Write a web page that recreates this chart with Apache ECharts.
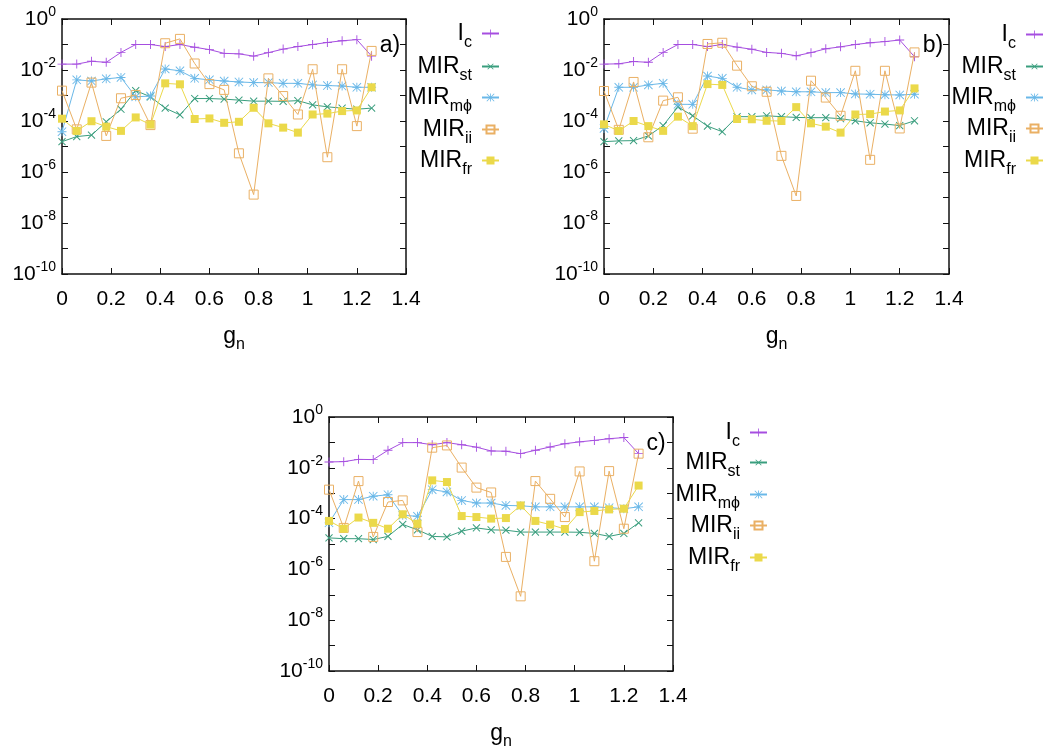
<!DOCTYPE html>
<html>
<head>
<meta charset="utf-8">
<script src="https://cdn.jsdelivr.net/npm/echarts@6/dist/echarts.min.js"></script>
<style>
html, body { margin: 0; padding: 0; background: #fff; }
#chart { width: 1046px; height: 756px; }
</style>
</head>
<body>
<div id="chart"></div>
<script>
// g_n values (x axis)
var gn = [0, 0.06, 0.12, 0.18, 0.24, 0.30, 0.36, 0.42, 0.48, 0.54, 0.60,
          0.66, 0.72, 0.78, 0.84, 0.90, 0.96, 1.02, 1.08, 1.14, 1.20, 1.26];

// panel a)
var Ic_a   = [1.7e-2, 1.7e-2, 2.2e-2, 2.0e-2, 4.9e-2, 1.0e-1, 1.0e-1, 8.3e-2, 1.0e-1, 7.8e-2, 6.3e-2,
              4.5e-2, 4.3e-2, 3.5e-2, 4.8e-2, 6.6e-2, 8.3e-2, 1.0e-1, 1.2e-1, 1.4e-1, 1.55e-1, 3.5e-2];
var St_a   = [1.55e-5, 2.45e-5, 2.8e-5, 9.3e-5, 2.9e-4, 1.55e-3, 8.9e-4, 3.2e-4, 1.74e-4, 7.6e-4, 7.6e-4,
              7.2e-4, 6.6e-4, 6.0e-4, 6.0e-4, 5.9e-4, 6.3e-4, 4.3e-4, 3.6e-4, 3.2e-4, 2.9e-4, 3.2e-4];
var Mphi_a = [3.8e-5, 4.1e-3, 3.7e-3, 4.5e-3, 5.1e-3, 8.9e-4, 9.5e-4, 1.1e-2, 9.3e-3, 4.7e-3, 4.1e-3,
              3.7e-3, 3.4e-3, 3.2e-3, 3.2e-3, 3.0e-3, 3.0e-3, 2.6e-3, 2.45e-3, 2.35e-3, 2.1e-3, 2.1e-3];
var Ii_a   = [1.55e-3, 4.7e-5, 3.2e-3, 2.6e-5, 7.8e-4, 1.05e-3, 6.9e-5, 1.12e-1, 1.66e-1, 1.8e-2, 2.8e-3,
              1.66e-3, 5.4e-6, 1.3e-7, 4.7e-3, 9.5e-4, 1.8e-4, 1.07e-2, 3.8e-6, 1.07e-2, 6.3e-5, 5.6e-2];
var Fr_a   = [1.23e-4, 4.1e-5, 9.8e-5, 6.0e-5, 4.1e-5, 1.38e-4, 7.2e-5, 3.0e-3, 2.75e-3, 1.2e-4, 1.26e-4,
              8.5e-5, 9.3e-5, 3.3e-4, 8.1e-5, 5.5e-5, 3.5e-5, 1.8e-4, 1.95e-4, 2.45e-4, 2.6e-4, 2.1e-3];

// panel b)
var Ic_b   = [1.7e-2, 1.75e-2, 2.15e-2, 2.0e-2, 4.9e-2, 1.0e-1, 1.0e-1, 8.3e-2, 1.0e-1, 7.9e-2, 6.5e-2,
              4.9e-2, 4.5e-2, 3.6e-2, 4.8e-2, 6.8e-2, 8.1e-2, 1.0e-1, 1.17e-1, 1.3e-1, 1.5e-1, 3.3e-2];
var St_b   = [1.55e-5, 1.66e-5, 1.7e-5, 2.6e-5, 6.6e-5, 3.6e-4, 1.6e-4, 6.3e-5, 3.8e-5, 1.48e-4, 1.48e-4,
              1.6e-4, 1.48e-4, 1.38e-4, 1.35e-4, 1.35e-4, 1.23e-4, 1.02e-4, 8.5e-5, 7.6e-5, 6.6e-5, 1.02e-4];
var Mphi_b = [5.1e-5, 2.1e-3, 2.1e-3, 2.6e-3, 3.0e-3, 4.5e-4, 4.5e-4, 5.8e-3, 4.7e-3, 2.1e-3, 1.66e-3,
              1.66e-3, 1.5e-3, 1.4e-3, 1.4e-3, 1.3e-3, 1.3e-3, 1.15e-3, 1.12e-3, 1.07e-3, 1.05e-3, 1.12e-3];
var Ii_b   = [1.5e-3, 4.5e-5, 3.4e-3, 2.3e-5, 6.3e-4, 8.5e-4, 5.0e-5, 1.05e-1, 1.17e-1, 1.48e-2, 2.3e-3,
              1.4e-3, 4.3e-6, 1.15e-7, 3.8e-3, 8.3e-4, 1.6e-4, 9.3e-3, 3.0e-6, 9.3e-3, 5.1e-5, 4.9e-2];
var Fr_b   = [7.4e-5, 4.1e-5, 1.0e-4, 6.3e-5, 4.1e-5, 1.48e-4, 6.3e-5, 2.8e-3, 2.6e-3, 1.2e-4, 1.17e-4,
              1.02e-4, 1.0e-4, 3.5e-4, 8.1e-5, 6.0e-5, 3.5e-5, 1.8e-4, 1.86e-4, 2.35e-4, 2.6e-4, 1.9e-3];

// panel c)
var Ic_c   = [1.7e-2, 1.75e-2, 2.15e-2, 2.1e-2, 4.9e-2, 9.8e-2, 9.8e-2, 8.1e-2, 9.8e-2, 8.1e-2, 6.5e-2,
              4.6e-2, 4.5e-2, 3.6e-2, 4.9e-2, 6.6e-2, 8.9e-2, 1.05e-1, 1.2e-1, 1.4e-1, 1.55e-1, 3.6e-2];
var St_c   = [1.74e-5, 1.62e-5, 1.62e-5, 1.5e-5, 2.0e-5, 5.9e-5, 3.6e-5, 2.0e-5, 1.9e-5, 3.2e-5, 4.3e-5,
              3.6e-5, 3.5e-5, 2.95e-5, 2.95e-5, 2.95e-5, 2.95e-5, 2.9e-5, 2.6e-5, 2.0e-5, 2.6e-5, 6.8e-5];
var Mphi_c = [6.8e-5, 5.6e-4, 5.6e-4, 7.6e-4, 8.7e-4, 1.35e-4, 1.23e-4, 1.38e-3, 1.12e-3, 5.2e-4, 4.1e-4,
              4.1e-4, 3.3e-4, 3.2e-4, 2.9e-4, 2.9e-4, 2.9e-4, 2.9e-4, 2.9e-4, 2.7e-4, 2.45e-4, 2.9e-4];
var Ii_c   = [1.38e-3, 4.3e-5, 3.0e-3, 1.9e-5, 4.5e-4, 5.2e-4, 2.95e-5, 6.2e-2, 7.6e-2, 1.02e-2, 1.66e-3,
              1.07e-3, 3.1e-6, 8.7e-8, 3.0e-3, 6.0e-4, 1.15e-4, 7.2e-3, 2.1e-6, 7.4e-3, 4.0e-5, 3.6e-2];
var Fr_c   = [8.1e-5, 4.0e-5, 1.1e-4, 6.8e-5, 4.0e-5, 1.48e-4, 6.3e-5, 3.2e-3, 2.75e-3, 1.26e-4, 1.15e-4,
              1.0e-4, 1.05e-4, 3.3e-4, 8.1e-5, 5.8e-5, 3.9e-5, 1.8e-4, 2.0e-4, 2.3e-4, 2.45e-4, 2.0e-3];

var FONT = "'Liberation Sans Narrow', 'Liberation Sans', Arial, sans-serif";

// gnuplot-like point types
var PLUS = 'path://M9,0L11,0L11,9L20,9L20,11L11,11L11,20L9,20L9,11L0,11L0,9L9,9Z';
var STAR = 'path://M9,0L11,0L11,20L9,20Z M0,9L20,9L20,11L0,11Z ' +
           'M0,1.4L1.4,0L20,18.6L18.6,20Z M18.6,0L20,1.4L1.4,20L0,18.6Z';

var kinds = [
    { key: 'Ic',   label: '{m|I}{s|c}',    color: '#a64ee0', symbol: PLUS,   size: 9,  rotate: 0 },
    { key: 'st',   label: '{m|MIR}{s|st}', color: '#3a9e7e', symbol: PLUS,   size: 10, rotate: 45 },
    { key: 'mphi', label: '{m|MIR}{s|mϕ}', color: '#6ab8e8', symbol: STAR,   size: 9,  rotate: 0 },
    { key: 'ii',   label: '{m|MIR}{s|ii}', color: '#eab064', symbol: 'rect', size: 9,  rotate: 0, open: true },
    { key: 'fr',   label: '{m|MIR}{s|fr}', color: '#ebd94a', symbol: 'rect', size: 8,  rotate: 0 }
];

var panels = [
    { tag: 'a)', grid: { left: 62, top: 19, width: 344, height: 255 },
      data: { Ic: Ic_a, st: St_a, mphi: Mphi_a, ii: Ii_a, fr: Fr_a },
      legendRight: 546, legendRows: [34, 67, 98, 130, 161], tagPos: [390, 46] },
    { tag: 'b)', grid: { left: 604, top: 19, width: 345, height: 255 },
      data: { Ic: Ic_b, st: St_b, mphi: Mphi_b, ii: Ii_b, fr: Fr_b },
      legendRight: 2, legendRows: [35, 67, 98, 129, 161], tagPos: [933, 46] },
    { tag: 'c)', grid: { left: 329, top: 417, width: 344, height: 254 },
      data: { Ic: Ic_c, st: St_c, mphi: Mphi_c, ii: Ii_c, fr: Fr_c },
      legendRight: 278, legendRows: [433, 463, 495, 526, 558], tagPos: [656, 444] }
];

var labelMap = {};
kinds.forEach(function (k) { labelMap[k.key] = k.label; });

var legendRich = {
    m: { fontSize: 23, fontFamily: FONT, color: '#000', lineHeight: 34 },
    s: { fontSize: 16, fontFamily: FONT, color: '#000', lineHeight: 14, verticalAlign: 'bottom', padding: [0, 5, 0, 0] }
};

var frame = { show: true, onZero: false, lineStyle: { color: '#111', width: 1.5 } };
var ticks = { show: true, inside: true, length: 6, lineStyle: { color: '#111', width: 1 } };

var option = {
    animation: false,
    backgroundColor: '#fff',
    grid: [], xAxis: [], yAxis: [], series: [], legend: [], graphic: []
};

panels.forEach(function (p, k) {
    option.grid.push(p.grid);

    // bottom and top x axes (mirrored ticks)
    option.xAxis.push({
        type: 'value', gridIndex: k, position: 'bottom', min: 0, max: 1.4, interval: 0.2,
        axisLine: frame, axisTick: ticks, splitLine: { show: false },
        axisLabel: { fontSize: 21, fontFamily: FONT, color: '#000', margin: 15 },
        name: '{m|g}{s|n}', nameLocation: 'middle', nameGap: 47,
        nameTextStyle: { rich: {
            m: { fontSize: 23, fontFamily: FONT, color: '#000', lineHeight: 32 },
            s: { fontSize: 16, fontFamily: FONT, color: '#000', lineHeight: 14, verticalAlign: 'bottom' }
        } }
    });
    option.xAxis.push({
        type: 'value', gridIndex: k, position: 'top', min: 0, max: 1.4, interval: 0.2,
        axisLine: frame, axisTick: ticks, splitLine: { show: false }, axisLabel: { show: false }
    });

    // left and right log y axes, one tick per decade
    option.yAxis.push({
        type: 'log', logBase: 10, gridIndex: k, position: 'left', min: 1e-10, max: 1, interval: 1,
        axisLine: frame, axisTick: ticks, splitLine: { show: false }, minorTick: { show: false },
        axisLabel: {
            margin: 6, color: '#000', showMinLabel: true, showMaxLabel: true,
            formatter: function (v) {
                var e = Math.round(Math.log10(v));
                if (e % 2 !== 0) return '';
                return '{b|10}{e|' + e + '}';
            },
            rich: {
                b: { fontSize: 21, fontFamily: FONT, color: '#000', lineHeight: 28 },
                e: { fontSize: 14, fontFamily: FONT, color: '#000', lineHeight: 14, verticalAlign: 'top' }
            }
        }
    });
    option.yAxis.push({
        type: 'log', logBase: 10, gridIndex: k, position: 'right', min: 1e-10, max: 1, interval: 1,
        axisLine: frame, axisTick: ticks, splitLine: { show: false }, axisLabel: { show: false }
    });

    kinds.forEach(function (kind, j) {
        var name = kind.key + '_' + k;
        var arr = p.data[kind.key];
        option.series.push({
            type: 'line', name: name,
            xAxisIndex: 2 * k, yAxisIndex: 2 * k,
            data: gn.map(function (x, i) { return [x, arr[i]]; }),
            symbol: kind.symbol, symbolSize: kind.size, symbolRotate: kind.rotate,
            color: kind.color,
            lineStyle: { color: kind.color, width: 1 },
            itemStyle: kind.open
                ? { color: 'rgba(255,255,255,0)', borderColor: kind.color, borderWidth: 1 }
                : { color: kind.color, borderWidth: 0 },
            emphasis: { disabled: true },
            z: 2 + j
        });
        option.legend.push({
            data: [name], orient: 'vertical', align: 'right',
            right: p.legendRight, top: p.legendRows[j] - 12,
            padding: 0, itemWidth: 17, itemHeight: 10,
            selectedMode: false,
            formatter: function (n) { return labelMap[n.split('_')[0]]; },
            textStyle: { rich: legendRich }
        });
    });

    option.graphic.push({
        type: 'text', x: p.tagPos[0], y: p.tagPos[1],
        style: { text: p.tag, font: '23px ' + FONT, fill: '#000', textAlign: 'center', textVerticalAlign: 'middle' }
    });
});

var chart = echarts.init(document.getElementById('chart'));
chart.setOption(option);
</script>
</body>
</html>
